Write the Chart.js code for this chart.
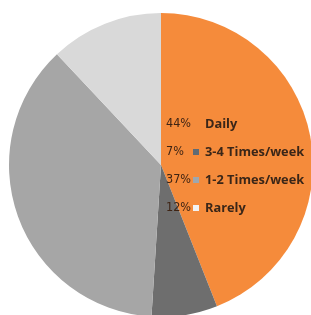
<!DOCTYPE html>
<html>
<head>
<meta charset="utf-8">
<script src="https://cdn.jsdelivr.net/npm/chart.js@4/dist/chart.umd.min.js"></script>
<style>
  html, body { margin: 0; padding: 0; background: #fff; overflow: hidden; width: 311px; height: 315px; }
  #wrap { position: absolute; left: 0; top: 0; width: 330px; height: 330px; }
</style>
</head>
<body>
<div id="wrap"><canvas id="grafico" width="330" height="330"></canvas></div>
<script>
const categorias = ['Daily', '3-4 Times/week', '1-2 Times/week', 'Rarely'];
const porcentajes = [44, 7, 37, 12];
const colores = ['#f58b3b', '#6e6e6e', '#a6a6a6', '#d9d9d9'];
const coloresMarca = ['#f58b3b', '#5f6b75', '#9ea7ae', '#f2f2f2'];

// leyenda dibujada dentro del gráfico, con el porcentaje a la izquierda
const leyendaInterna = {
    id: 'leyendaInterna',
    afterDraw(chart) {
        const ctx = chart.ctx;
        ctx.save();
        ctx.textBaseline = 'middle';
        categorias.forEach(function (cat, i) {
            const y = 124 + i * 28;
            ctx.fillStyle = '#3e2414';
            ctx.font = '12.5px "Liberation Sans Narrow", "DejaVu Sans Condensed", sans-serif';
            ctx.fillText(porcentajes[i] + '%', 166, y);
            ctx.fillStyle = coloresMarca[i];
            ctx.fillRect(193, y - 3, 6, 6);
            ctx.fillStyle = '#3a2618';
            ctx.font = 'bold 12.8px "Open Sans", sans-serif';
            ctx.fillText(cat, 205, y);
        });
        ctx.restore();
    }
};

new Chart(document.getElementById('grafico').getContext('2d'), {
    type: 'pie',
    data: {
        labels: categorias,
        datasets: [{
            data: porcentajes,
            backgroundColor: colores,
            borderWidth: 0
        }]
    },
    options: {
        responsive: false,
        animation: false,
        layout: { padding: { left: 9, top: 13, right: 17, bottom: 13 } },
        plugins: { legend: { display: false }, tooltip: { enabled: false } }
    },
    plugins: [leyendaInterna]
});
</script>
</body>
</html>
